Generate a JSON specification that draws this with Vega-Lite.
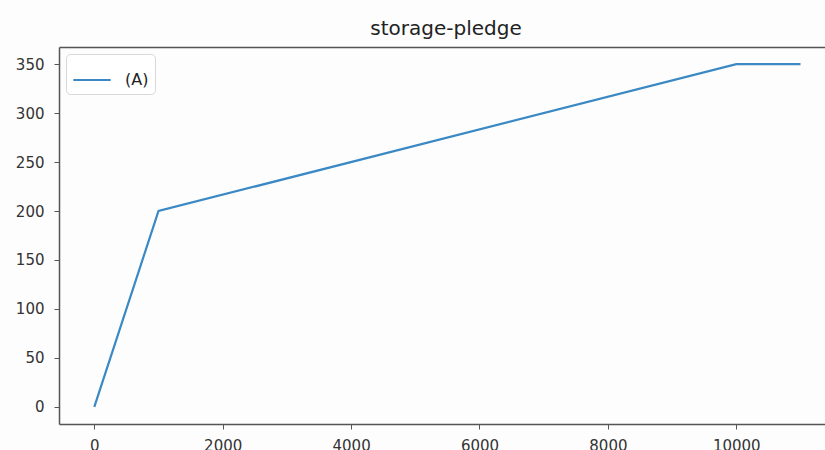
{
  "$schema": "https://vega.github.io/schema/vega-lite/v6.json",
  "autosize": {"type": "none"},
  "width": 766,
  "height": 377,
  "padding": {"left": 59, "top": 47, "right": 0, "bottom": 26},
  "background": "#fdfdfd",
  "title": {"text": "storage-pledge", "font": "DejaVu Sans", "fontSize": 20, "fontWeight": "normal", "color": "#222222", "anchor": "middle", "dx": 4, "offset": 8},
  "data": {"values": [
    {"x": 0, "y": 0, "s": "(A)"},
    {"x": 1000, "y": 200, "s": "(A)"},
    {"x": 10000, "y": 350, "s": "(A)"},
    {"x": 11000, "y": 350, "s": "(A)"}
  ]},
  "layer": [
    {
      "mark": {"type": "line", "strokeWidth": 2.2, "clip": true},
      "encoding": {
        "x": {"field": "x", "type": "quantitative", "scale": {"domain": [-550, 11382], "nice": false, "zero": false},
          "axis": {"values": [0, 2000, 4000, 6000, 8000, 10000], "format": "d", "title": null, "grid": false, "labelPadding": 9}},
        "y": {"field": "y", "type": "quantitative", "scale": {"domain": [-17.5, 367.5], "nice": false, "zero": false},
          "axis": {"values": [0, 50, 100, 150, 200, 250, 300, 350], "title": null, "grid": false, "labelPadding": 10}},
        "color": {"field": "s", "type": "nominal", "scale": {"range": ["#3a88c4"]},
          "legend": {"title": null, "orient": "none", "legendX": 7, "legendY": 7, "symbolType": "stroke", "symbolSize": 1400, "symbolStrokeWidth": 2.2, "labelFontSize": 16, "labelFont": "DejaVu Sans", "labelColor": "#222222", "padding": 6, "strokeColor": "#d8d8d8", "fillColor": "#ffffff", "cornerRadius": 4, "labelOffset": 13}}
      }
    },
    {
      "mark": {"type": "line", "opacity": 0, "clip": true},
      "encoding": {
        "x": {"field": "x", "type": "quantitative", "axis": {"orient": "top", "labels": false, "ticks": false, "title": null, "grid": false}}
      }
    }
  ],
  "resolve": {"axis": {"x": "independent"}},
  "config": {
    "view": {"stroke": null},
    "axis": {"domainColor": "#555555", "domainWidth": 1.5, "tickColor": "#555555", "tickSize": 5, "tickWidth": 1, "labelFont": "DejaVu Sans", "labelFontSize": 15, "labelColor": "#333333"}
  }
}
